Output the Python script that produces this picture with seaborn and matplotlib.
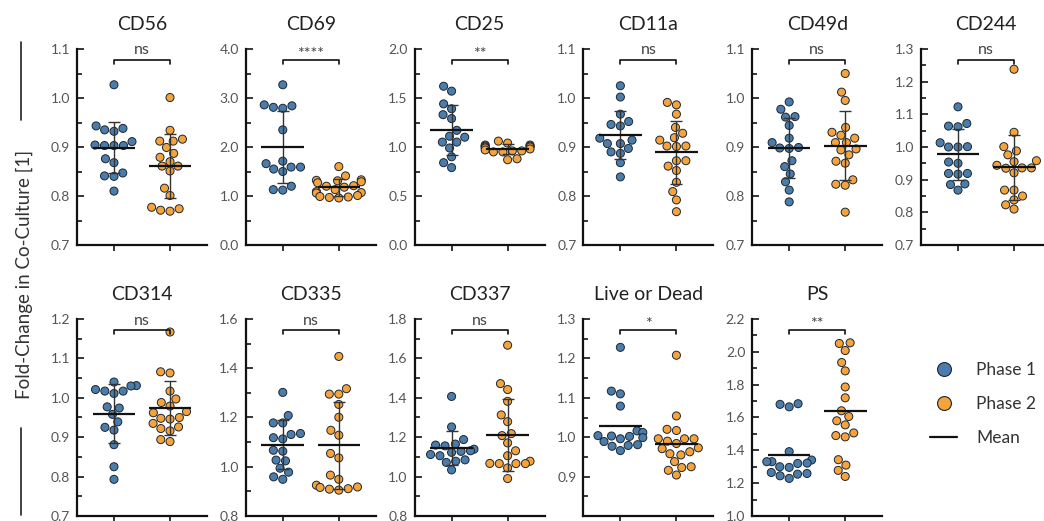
import numpy as np
import pandas as pd
import matplotlib
matplotlib.use("Agg")
import matplotlib.pyplot as plt
from matplotlib.lines import Line2D
from matplotlib.ticker import MultipleLocator, FormatStrFormatter
import seaborn as sns

sns.set_style("ticks")
plt.rcParams["font.family"] = ["Lato", "DejaVu Sans"]

BLUE = "#4A7DAB"
ORANGE = "#F5A33A"

# values (fold-change per donor)
cd56_p1 = [1.027, 0.943, 0.938, 0.935, 0.932, 0.911, 0.904, 0.903, 0.903, 0.903, 0.876, 0.868, 0.847, 0.840, 0.841, 0.810]
cd56_p2 = [1.001, 0.934, 0.916, 0.912, 0.912, 0.899, 0.887, 0.879, 0.870, 0.861, 0.861, 0.851, 0.816, 0.801, 0.777, 0.774, 0.771, 0.769]
cd69_p1 = [3.27, 2.84, 2.86, 2.79, 2.81, 2.35, 1.66, 1.50, 1.59, 1.59, 1.71, 1.55, 1.12, 1.13, 1.20]
cd69_p2 = [1.60, 1.41, 1.33, 1.32, 1.31, 1.29, 1.27, 1.21, 1.20, 1.18, 1.13, 1.09, 1.07, 1.06, 1.01, 0.99, 0.98, 0.97, 0.96]
cd25_p1 = [1.62, 1.57, 1.44, 1.39, 1.33, 1.29, 1.17, 1.11, 1.10, 1.05, 1.05, 0.99, 0.90, 0.84, 0.79]
cd25_p2 = [1.06, 1.04, 1.02, 1.02, 1.01, 1.01, 1.00, 1.00, 0.99, 0.98, 0.97, 0.96, 0.96, 0.95, 0.95, 0.88, 0.87]
cd11a_p1 = [1.025, 1.002, 0.967, 0.952, 0.946, 0.943, 0.918, 0.914, 0.907, 0.907, 0.897, 0.890, 0.887, 0.868, 0.839]
cd11a_p2 = [0.991, 0.986, 0.967, 0.940, 0.928, 0.919, 0.914, 0.902, 0.902, 0.901, 0.872, 0.872, 0.861, 0.852, 0.828, 0.809, 0.792, 0.768]
cd49d_p1 = [0.992, 0.977, 0.962, 0.961, 0.944, 0.918, 0.909, 0.899, 0.898, 0.897, 0.872, 0.860, 0.845, 0.829, 0.812, 0.788]
cd49d_p2 = [1.050, 1.012, 0.995, 0.940, 0.930, 0.924, 0.918, 0.909, 0.909, 0.896, 0.894, 0.884, 0.871, 0.867, 0.833, 0.822, 0.824, 0.767]
cd244_p1 = [1.123, 1.072, 1.064, 1.062, 1.013, 1.001, 1.000, 1.000, 0.954, 0.950, 0.919, 0.919, 0.917, 0.887, 0.885, 0.868]
cd244_p2 = [1.238, 1.045, 1.001, 0.988, 0.976, 0.958, 0.955, 0.944, 0.936, 0.936, 0.935, 0.921, 0.868, 0.868, 0.850, 0.838, 0.823, 0.810]
cd314_p1 = [1.040, 1.031, 1.030, 1.021, 1.017, 1.017, 1.011, 0.977, 0.974, 0.958, 0.939, 0.925, 0.918, 0.881, 0.825, 0.793]
cd314_p2 = [1.167, 1.066, 1.063, 1.017, 0.997, 0.988, 0.979, 0.965, 0.962, 0.948, 0.946, 0.950, 0.935, 0.926, 0.922, 0.916, 0.894, 0.889]
cd335_p1 = [1.302, 1.208, 1.178, 1.178, 1.135, 1.131, 1.113, 1.118, 1.067, 1.063, 1.027, 1.024, 0.994, 0.978, 0.959, 0.949]
cd335_p2 = [1.448, 1.317, 1.295, 1.295, 1.253, 1.201, 1.148, 1.128, 1.054, 1.036, 0.966, 0.949, 0.925, 0.918, 0.916, 0.911, 0.909, 0.905]
cd337_p1 = [1.407, 1.252, 1.188, 1.165, 1.160, 1.156, 1.139, 1.131, 1.128, 1.123, 1.112, 1.106, 1.085, 1.078, 1.072, 1.034]
cd337_p2 = [1.667, 1.472, 1.442, 1.382, 1.313, 1.279, 1.218, 1.208, 1.171, 1.131, 1.106, 1.078, 1.066, 1.067, 1.066, 1.066, 1.044, 0.990]
live_p1 = [1.228, 1.117, 1.110, 1.079, 1.016, 1.012, 1.004, 1.003, 1.002, 0.999, 0.996, 0.989, 0.981, 0.979, 0.977, 0.966]
live_p2 = [1.208, 1.054, 1.020, 1.017, 0.996, 0.996, 0.996, 0.990, 0.984, 0.973, 0.971, 0.963, 0.958, 0.955, 0.938, 0.925, 0.923, 0.916, 0.904]
ps_p1 = [1.684, 1.680, 1.665, 1.392, 1.341, 1.331, 1.331, 1.322, 1.320, 1.300, 1.296, 1.265, 1.259, 1.255, 1.245, 1.229]
ps_p2 = [2.055, 2.051, 2.008, 1.935, 1.884, 1.786, 1.720, 1.641, 1.606, 1.580, 1.555, 1.506, 1.490, 1.482, 1.343, 1.310, 1.278, 1.241]

titles = ["CD56", "CD69", "CD25", "CD11a", "CD49d", "CD244",
          "CD314", "CD335", "CD337", "Live or Dead", "PS"]
phase1 = [cd56_p1, cd69_p1, cd25_p1, cd11a_p1, cd49d_p1, cd244_p1,
          cd314_p1, cd335_p1, cd337_p1, live_p1, ps_p1]
phase2 = [cd56_p2, cd69_p2, cd25_p2, cd11a_p2, cd49d_p2, cd244_p2,
          cd314_p2, cd335_p2, cd337_p2, live_p2, ps_p2]
signif = ["ns", "****", "**", "ns", "ns", "ns", "ns", "ns", "ns", "*", "**"]
y_ranges = [(0.7, 1.1), (0.0, 4.0), (0.0, 2.0), (0.7, 1.1), (0.7, 1.1), (0.7, 1.3),
            (0.7, 1.2), (0.8, 1.6), (0.8, 1.8), (0.8, 1.3), (1.0, 2.2)]
y_steps = [0.1, 1.0, 0.5, 0.1, 0.1, 0.1, 0.1, 0.2, 0.2, 0.1, 0.2]
show_sd = [True] * 9 + [False, False]

fig = plt.figure(figsize=(10.44, 5.21), dpi=100)
W, H = 1044, 521
pal = {"Phase 1": BLUE, "Phase 2": ORANGE}

for k, title in enumerate(titles):
    row, col = divmod(k, 6)
    left = 77 + 168.8 * col
    top, bottom = (49, 245) if row == 0 else (319, 516)
    ax = fig.add_axes([left / W, 1 - bottom / H, 130 / W, (bottom - top) / H])

    p1, p2 = phase1[k], phase2[k]
    df = pd.DataFrame({"phase": ["Phase 1"] * len(p1) + ["Phase 2"] * len(p2),
                       "value": p1 + p2})
    sns.swarmplot(data=df, x="phase", y="value", hue="phase", palette=pal,
                  size=5.8, edgecolor="#1c2630", linewidth=0.7, legend=False,
                  ax=ax, zorder=2, warn_thresh=1.0)

    for i, vals in enumerate([p1, p2]):
        m = np.mean(vals)
        ax.hlines(m, i - 0.38, i + 0.38, color="#111111", lw=1.6, zorder=4)
        if show_sd[k]:
            ax.errorbar(i, m, yerr=np.std(vals, ddof=1), color="#333333", lw=1,
                        capsize=4, capthick=1, zorder=3)

    lo, hi = y_ranges[k]
    step = y_steps[k]
    ax.set_ylim(lo, hi)
    ax.set_xlim(-0.66, 1.66)
    ax.yaxis.set_major_locator(MultipleLocator(step))
    ax.yaxis.set_minor_locator(MultipleLocator(step / 2))
    ax.yaxis.set_major_formatter(FormatStrFormatter("%.1f"))
    if title == "Live or Dead":
        ax.set_yticks(np.arange(0.9, 1.31, 0.1))
    ax.set_xticks([0, 1])
    ax.set_xticklabels([])
    ax.set_xlabel("")
    ax.set_ylabel("")
    ax.tick_params(axis="y", direction="in", length=5, width=1.3,
                   labelsize=10, labelcolor="#555555", pad=5)
    ax.tick_params(axis="y", which="minor", direction="in", length=3.5, width=1.3)
    ax.tick_params(axis="x", direction="out", length=4, width=1.3)
    for s in ["left", "bottom"]:
        ax.spines[s].set_linewidth(1.6)
        ax.spines[s].set_color("#111111")
    sns.despine(ax=ax)
    ax.set_title(title, fontsize=14, color="#222222", pad=14)

    # significance bracket
    tr = ax.get_xaxis_transform()
    ax.plot([0, 0, 1, 1], [0.925, 0.944, 0.944, 0.925], color="#111111",
            lw=1.2, transform=tr, clip_on=False, solid_joinstyle="round")
    ty = 0.952 if "*" in signif[k] else 0.972
    ax.text(0.5, ty, signif[k], transform=tr, ha="center", va="baseline",
            fontsize=11.5, color="#444444")

# y-axis label with decorative lines
fig.text(24 / W, 1 - 274 / H, "Fold-Change in Co-Culture [1]", rotation=90,
         ha="center", va="center", fontsize=13.5, color="#333333")
fig.add_artist(Line2D([21 / W, 21 / W], [1 - 42 / H, 1 - 120 / H], color="#222222", lw=1.2))
fig.add_artist(Line2D([21 / W, 21 / W], [1 - 428 / H, 1 - 515 / H], color="#222222", lw=1.2))

handles = [
    Line2D([], [], marker="o", ls="", markersize=10, markerfacecolor=BLUE,
           markeredgecolor="#1c2630", markeredgewidth=0.8, label="Phase 1"),
    Line2D([], [], marker="o", ls="", markersize=10, markerfacecolor=ORANGE,
           markeredgecolor="#1c2630", markeredgewidth=0.8, label="Phase 2"),
    Line2D([], [], color="#111111", lw=1.6, label="Mean"),
]
fig.legend(handles=handles, loc="upper left", bbox_to_anchor=(914 / W, 1 - 346 / H),
           frameon=False, fontsize=12.5, handlelength=1.6, labelspacing=1.05,
           handletextpad=1.1, labelcolor="#333333")

fig.savefig("out.png", dpi=100)
